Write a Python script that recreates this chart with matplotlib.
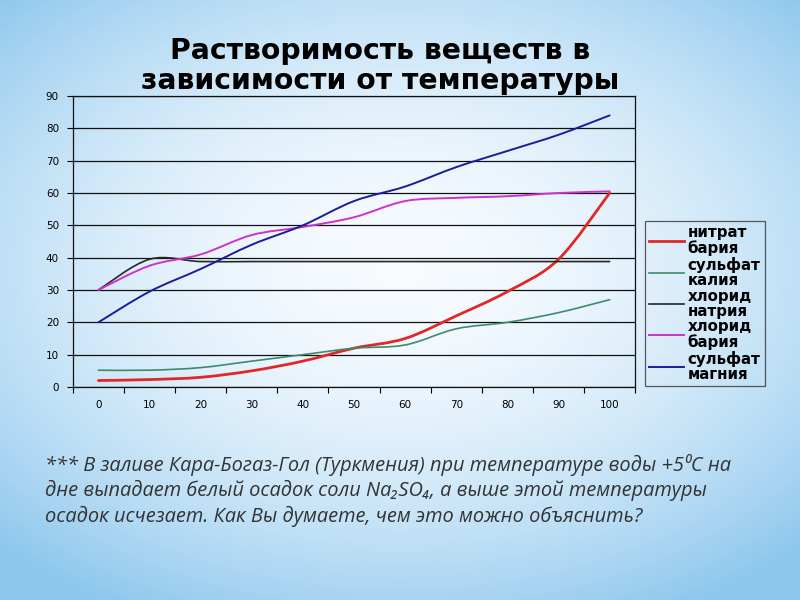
import numpy as np
import matplotlib
matplotlib.use("Agg")
from matplotlib import pyplot as plt
from matplotlib.path import Path
from matplotlib.patches import PathPatch
from matplotlib.lines import Line2D

temps = ["0", "10", "20", "30", "40", "50", "60", "70", "80", "90", "100"]
nitrat_bariya = [2, 2.3, 3, 5, 8, 12, 15, 22, 29.5, 39.5, 60]
sulfat_kaliya = [5.2, 5.2, 6, 8, 10, 12, 13, 18, 20, 23, 27]
hlorid_natriya = [30, 39.5, 38.8, 38.8, 38.8, 38.8, 38.8, 38.8, 38.8, 38.8, 38.8]
hlorid_bariya = [30, 37.5, 41, 47, 49.5, 52.5, 57.5, 58.5, 59, 60, 60.5]
sulfat_magniya = [20, 29.5, 36.5, 44, 50, 57.5, 62, 68, 73, 78, 84]

series = [
    ("нитрат\nбария", nitrat_bariya, "#e02828", 2.0),
    ("сульфат\nкалия", sulfat_kaliya, "#3c8c6c", 1.2),
    ("хлорид\nнатрия", hlorid_natriya, "#262626", 1.2),
    ("хлорид\nбария", hlorid_bariya, "#cc33cc", 1.4),
    ("сульфат\nмагния", sulfat_magniya, "#1c1c9c", 1.4),
]

title = "Растворимость веществ в\nзависимости от температуры"
note = ("*** В заливе Кара-Богаз-Гол (Туркмения) при температуре воды +5\u2070С на\n"
        "дне выпадает белый осадок соли Na\u2082SO\u2084, а выше этой температуры\n"
        "осадок исчезает. Как Вы думаете, чем это можно объяснить?")


def smooth_path(x, y):
    # excel-like smoothed line: cubic bezier through the points
    x = np.asarray(x, float)
    y = np.asarray(y, float)
    p = np.column_stack([x, y])
    pp = np.vstack([p[0], p, p[-1]])
    verts = [p[0]]
    codes = [Path.MOVETO]
    for i in range(len(p) - 1):
        a, b, c, d = pp[i], pp[i + 1], pp[i + 2], pp[i + 3]
        verts += [b + (c - a) / 6.0, c - (d - b) / 6.0, c]
        codes += [Path.CURVE4] * 3
    return Path(verts, codes)


fig = plt.figure(figsize=(8, 6), dpi=100)

# background gradient
bg = fig.add_axes([0, 0, 1, 1], zorder=-10)
gx, gy = np.meshgrid(np.linspace(-1, 1, 400), np.linspace(-1, 1, 300))
r = np.clip(np.sqrt((gx * 0.9) ** 2 + ((gy + 0.1) * 1.0) ** 2), 0, 1.3) / 1.3
c0 = np.array([0.97, 0.985, 1.0])
c1 = np.array([0.55, 0.78, 0.93])
img = c0[None, None, :] + (c1 - c0)[None, None, :] * (r[..., None] ** 1.8)
bg.imshow(img, aspect="auto", extent=[0, 1, 0, 1])
bg.axis("off")

ax = fig.add_axes([0.091, 0.355, 0.703, 0.485])
ax.patch.set_alpha(0)
xs = np.arange(len(temps))
for label, vals, col, lw in series:
    ax.add_patch(PathPatch(smooth_path(xs, vals), fill=False, edgecolor=col,
                           lw=lw, capstyle="round", zorder=3))

ax.set_xlim(-0.5, len(temps) - 0.5)
ax.set_ylim(0, 90)
ax.set_yticks(range(0, 91, 10))
ax.set_xticks(xs)
ax.set_xticklabels(temps)
ax.set_xticks(np.arange(-0.5, len(temps), 1.0), minor=True)
ax.tick_params(axis="x", which="major", length=0, pad=9, labelsize=7.5)
ax.tick_params(axis="x", which="minor", length=4, direction="out", width=0.8)
ax.tick_params(axis="y", length=4, direction="out", width=0.8, labelsize=7.5, pad=6)
for lab in ax.get_xticklabels() + ax.get_yticklabels():
    lab.set_family("DejaVu Sans")
ax.grid(axis="y", color="#111111", lw=0.9)
ax.set_axisbelow(True)
for s in ax.spines.values():
    s.set_linewidth(0.9)
    s.set_color("#111111")

handles = [Line2D([], [], color=col, lw=lw) for _, _, col, lw in series]
leg = fig.legend(handles, [s[0] for s in series], loc="upper left",
                 bbox_to_anchor=(0.806, 0.632), bbox_transform=fig.transFigure,
                 prop={"family": "DejaVu Sans", "weight": "bold", "size": 10.8},
                 handlelength=2.3, handletextpad=0.25, labelspacing=0.05,
                 borderpad=0.3, fancybox=False, borderaxespad=0)
leg.get_frame().set_facecolor("none")
leg.get_frame().set_edgecolor("#333333")
leg.get_frame().set_linewidth(0.9)
for t in leg.get_texts():
    t.set_linespacing(1.0)

fig.text(0.475, 0.89, title, ha="center", va="center", fontsize=20.3,
         fontweight="bold", family="DejaVu Sans", linespacing=1.1)

fig.text(0.056, 0.183, note, ha="left", va="center", fontsize=14.4,
         style="italic", family=["Open Sans", "DejaVu Sans"], color="#333333",
         linespacing=1.27)

fig.savefig("out.png", dpi=100)
